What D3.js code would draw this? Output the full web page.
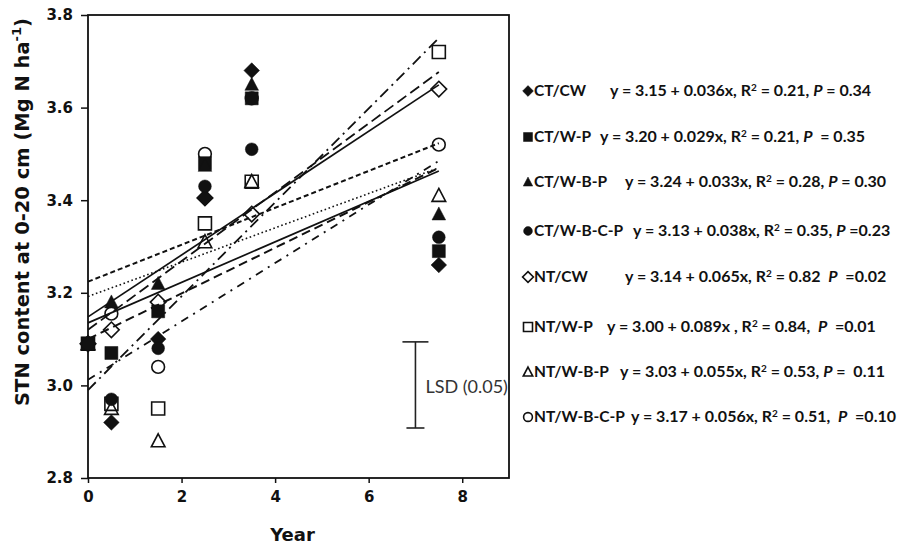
<!DOCTYPE html>
<meta charset="utf-8">
<script src="https://d3js.org/d3.v7.min.js"></script>
<style>
  body { margin: 0; background: #fff; }
  text { white-space: pre; }
</style>
<body>
<svg width="904" height="546"></svg>
<script>
  // values
  var years = [0, 0.5, 1.5, 2.5, 3.5, 7.5];
  var treatments = ["CT/CW", "CT/W-P", "CT/W-B-P", "CT/W-B-C-P", "NT/CW", "NT/W-P", "NT/W-B-P", "NT/W-B-C-P"];
  var ctCW   = [3.09, 2.92, 3.10, 3.405, 3.68, 3.26];
  var ctWP   = [3.09, 3.07, 3.16, 3.48, 3.62, 3.29];
  var ctWBP  = [3.09, 3.18, 3.22, 3.475, 3.65, 3.37];
  var ctWBCP = [3.09, 2.97, 3.08, 3.43, 3.51, 3.32];
  var ntCW   = [3.09, 3.12, 3.18, 3.405, 3.37, 3.64];
  var ntWP   = [3.09, 2.96, 2.95, 3.35, 3.44, 3.72];
  var ntWBP  = [3.09, 2.95, 2.88, 3.31, 3.44, 3.41];
  var ntWBCP = [3.09, 3.155, 3.04, 3.50, 3.62, 3.52];
  var seriesValues = [ctCW, ctWP, ctWBP, ctWBCP, ntCW, ntWP, ntWBP, ntWBCP];

  // fitted lines as drawn (value at year 0 and at year 7.5)
  var trendFrom = [0, 0, 0, 0, 0, 0, 0, 0];
  var trendTo = [7.5, 7.5, 7.5, 7.5, 7.5, 7.5, 7.5, 7.5];
  var trendStart = [3.135, 3.192, 3.224, 3.100, 3.148, 2.990, 3.012, 3.120];
  var trendEnd   = [3.463, 3.470, 3.523, 3.470, 3.649, 3.750, 3.485, 3.677];

  // equation text
  var eqA  = ["3.15", "3.20", "3.24", "3.13", "3.14", "3.00", "3.03", "3.17"];
  var eqB  = ["0.036x,", "0.029x,", "0.033x,", "0.038x,", "0.065x,", "0.089x ,", "0.055x,", "0.056x,"];
  var eqR2 = ["0.21,", "0.21,", "0.28,", "0.35,", "0.82 ", "0.84, ", "0.53,", "0.51, "];
  var eqP  = ["= 0.34", " = 0.35", "= 0.30", "=0.23", " =0.02", " =0.01", "=  0.11", " =0.10"];

  var yTicks = [2.8, 3.0, 3.2, 3.4, 3.6, 3.8];
  var xTicks = [0, 2, 4, 6, 8];
  var lsdX = 7, lsdLow = 2.908, lsdHigh = 3.094;

  var shapes = ["diamond", "square", "triangle", "circle", "diamond", "square", "triangle", "circle"];
  var filled = [true, true, true, true, false, false, false, false];
  var dashes = [null, "1.6,2.6", "5,3", "9,5", null, "11,5,2,5", "8,6,2,6", "11,5"];
  var widths = [1.7, 1.6, 2, 2, 1.7, 1.8, 1.8, 1.8];
  var eqX = [610, 600, 625, 633, 625, 607, 620, 631];
  var rowY = [91, 137, 182, 231, 277, 327, 372, 417];

  var svg = d3.select("svg");
  var x = d3.scaleLinear().domain([0, 9]).range([88, 509]);
  var y = d3.scaleLinear().domain([2.8, 3.8]).range([478, 15]);

  function markerPath(shape, s) {
    var h = s / 2;
    if (shape == "square") return "M" + (-h) + "," + (-h) + "h" + s + "v" + s + "h" + (-s) + "Z";
    if (shape == "diamond") return "M0," + (-h * 1.2) + "L" + (h * 1.2) + ",0L0," + (h * 1.2) + "L" + (-h * 1.2) + ",0Z";
    if (shape == "triangle") return "M0," + (-h * 1.1) + "L" + (h * 1.05) + "," + (h * 0.9) + "L" + (-h * 1.05) + "," + (h * 0.9) + "Z";
    return d3.arc()({ innerRadius: 0, outerRadius: h * 0.98, startAngle: 0, endAngle: 2 * Math.PI });
  }

  // frame
  svg.append("rect")
    .attr("x", x(0)).attr("y", y(3.8))
    .attr("width", x(9) - x(0)).attr("height", y(2.8) - y(3.8))
    .attr("fill", "none").attr("stroke", "#111").attr("stroke-width", 1.8);

  var yAxis = svg.append("g")
    .attr("transform", "translate(" + x(0) + ",0)")
    .call(d3.axisLeft(y).tickValues(yTicks).tickFormat(d3.format(".1f")).tickSize(7).tickPadding(8));
  var xAxis = svg.append("g")
    .attr("transform", "translate(0," + y(2.8) + ")")
    .call(d3.axisBottom(x).tickValues(xTicks).tickSize(5).tickPadding(8));
  [yAxis, xAxis].forEach(function (g) {
    g.select(".domain").remove();
    g.selectAll("line").attr("stroke", "#111").attr("stroke-width", 1.5);
    g.selectAll("text").attr("font-family", "DejaVu Sans").attr("font-weight", "bold")
      .attr("font-size", 15).attr("fill", "#111");
  });

  svg.append("text")
    .attr("x", x(4.5) - 6).attr("y", 541)
    .attr("text-anchor", "middle")
    .attr("font-family", "DejaVu Sans").attr("font-weight", "bold").attr("font-size", 18)
    .attr("fill", "#111").text("Year");

  var yl = svg.append("text")
    .attr("transform", "translate(29,212) rotate(-90)")
    .attr("text-anchor", "middle")
    .attr("font-family", "DejaVu Sans").attr("font-weight", "bold").attr("font-size", 19.5)
    .attr("fill", "#111");
  yl.append("tspan").text("STN content at 0-20 cm (Mg N ha");
  yl.append("tspan").attr("font-size", 13).attr("dy", -8).text("-1");
  yl.append("tspan").attr("dy", 8).text(")");

  // trend lines
  treatments.forEach(function (t, i) {
    svg.append("line")
      .attr("x1", x(trendFrom[i])).attr("y1", y(trendStart[i]))
      .attr("x2", x(trendTo[i])).attr("y2", y(trendEnd[i]))
      .attr("stroke", "#111").attr("stroke-width", widths[i])
      .attr("stroke-dasharray", dashes[i]);
  });

  // points: open markers first, filled ones on top
  [4, 5, 6, 7, 0, 1, 2, 3].forEach(function (i) {
    svg.append("g").selectAll("path")
      .data(seriesValues[i].map(function (v, j) { return [years[j], v]; }))
      .enter().append("path")
      .attr("transform", function (d) { return "translate(" + x(d[0]) + "," + y(d[1]) + ")"; })
      .attr("d", markerPath(shapes[i], 13))
      .attr("fill", filled[i] ? "#111" : "none")
      .attr("stroke", "#111").attr("stroke-width", filled[i] ? 0.5 : 1.6);
  });

  // LSD bar
  var lsd = svg.append("g").attr("stroke", "#222").attr("stroke-width", 1.6);
  lsd.append("line").attr("x1", x(lsdX)).attr("x2", x(lsdX)).attr("y1", y(lsdHigh)).attr("y2", y(lsdLow));
  lsd.append("line").attr("x1", x(lsdX) - 13).attr("x2", x(lsdX) + 13).attr("y1", y(lsdHigh)).attr("y2", y(lsdHigh));
  lsd.append("line").attr("x1", x(lsdX) - 9).attr("x2", x(lsdX) + 9).attr("y1", y(lsdLow)).attr("y2", y(lsdLow));
  svg.append("text")
    .attr("x", x(lsdX) + 10).attr("y", 393)
    .attr("font-family", "Lato").attr("font-size", 18).attr("fill", "#333")
    .text("LSD (0.05)");

  // legend with equations
  treatments.forEach(function (t, i) {
    var ry = rowY[i];
    svg.append("path")
      .attr("transform", "translate(528," + ry + ")")
      .attr("d", markerPath(shapes[i], 9))
      .attr("fill", filled[i] ? "#111" : "none")
      .attr("stroke", "#111").attr("stroke-width", filled[i] ? 0.5 : 1.6);
    svg.append("text")
      .attr("x", 534).attr("y", ry + 5)
      .attr("font-family", "Lato").attr("font-weight", "bold").attr("font-size", 15.5)
      .attr("fill", "#111").text(t);
    var eq = svg.append("text")
      .attr("x", eqX[i]).attr("y", ry + 5)
      .attr("font-family", "Lato").attr("font-weight", "bold").attr("font-size", 16)
      .attr("fill", "#111");
    eq.append("tspan").text("y = " + eqA[i] + " + " + eqB[i] + " R");
    eq.append("tspan").attr("font-size", 10).attr("dy", -5).text("2");
    eq.append("tspan").attr("dy", 5).text(" = " + eqR2[i] + " ");
    eq.append("tspan").attr("font-style", "italic").text("P");
    eq.append("tspan").text(" " + eqP[i]);
  });
</script>
</body>
